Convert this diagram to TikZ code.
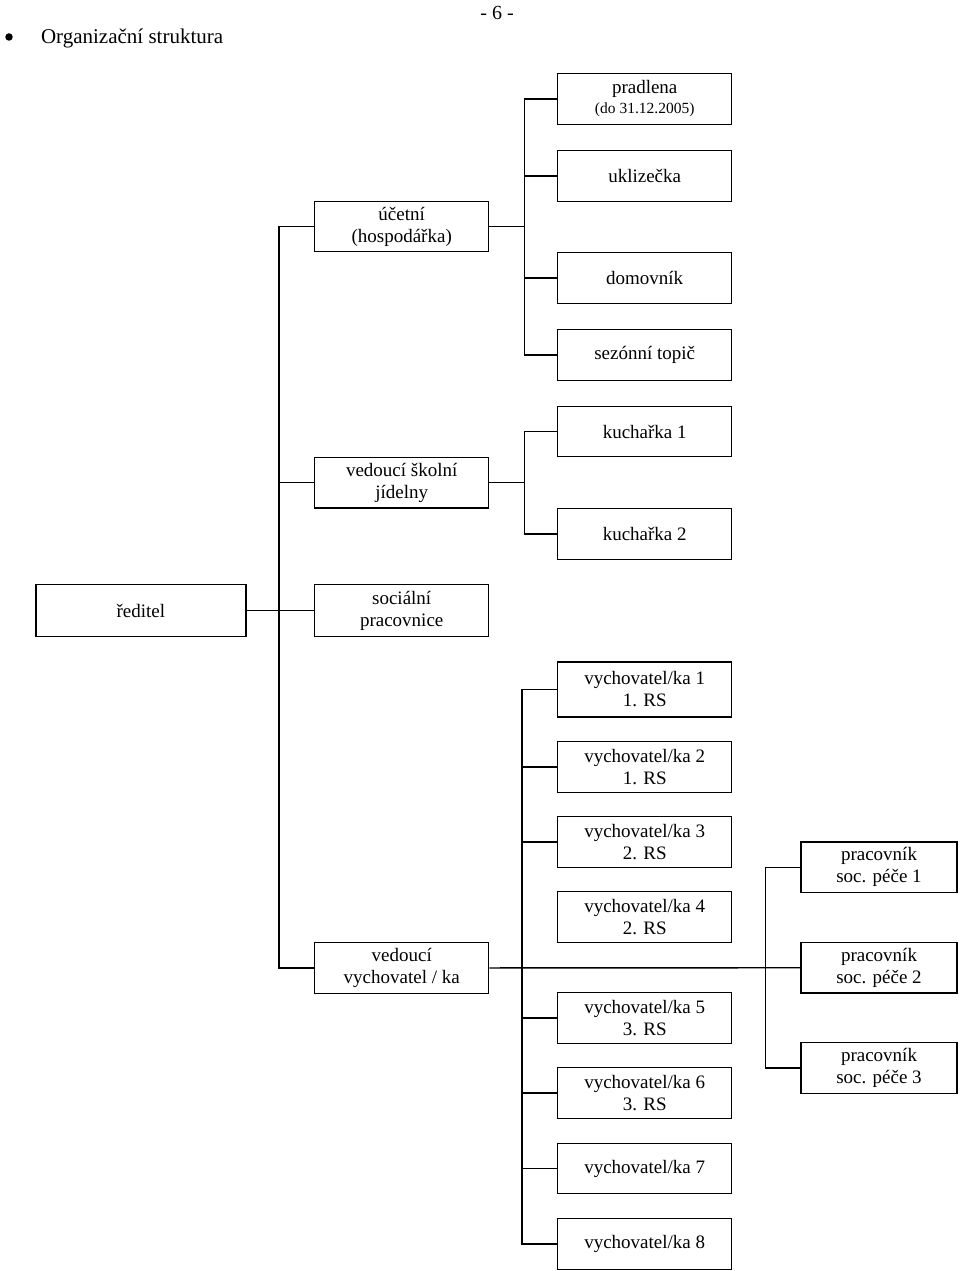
\documentclass[tikz,border=0pt]{standalone}
\usepackage{fontspec}
\setmainfont{Liberation Serif}
\usetikzlibrary{positioning}

\begin{document}
\begin{tikzpicture}[x = 1pt, y = -1pt, line width = 1.4pt,
  font = \fontsize{19}{22}\selectfont,
  box/.style = {draw, align = center, inner sep = 0pt, minimum width = 174pt, minimum height = 50.5pt},
  small/.style = {box, minimum width = 156pt}]
  \useasboundingbox (0,0) rectangle (960,1271);
  % heading
  \node (bul)   at (9,37) [circle, fill, inner sep = 0pt, minimum size = 7.5pt] {};
  \node (title) at (37,44) [anchor = base west, font = \fontsize{21}{25}\selectfont] {Organizační struktura};
  \node (page)  at (497,20) [anchor = base, font = \fontsize{20}{24}\selectfont] {- 6 -};
  % left column
  \node (red)  at (140.8,610.5) [box, minimum width = 210pt, minimum height = 52pt] {ředitel};
  \node (ucet) at (401.7,226.5) [box] {účetní\\(hospodářka)};
  \node (vsj)  at (401.7,482.7) [box] {vedoucí školní\\jídelny};
  \node (soc)  at (401.7,610.5) [box, minimum height = 52pt] {sociální\\pracovnice};
  \node (vedv) at (401.7,968) [box] {vedoucí\\vychovatel / ka};
  % provoz
  \node (prad)  at (644.7,99)  [box] {pradlena\\[-2pt]\fontsize{15.5}{18}\selectfont(do 31.12.2005)};
  \node (ukl)   at (644.7,176) [box] {uklizečka};
  \node (dom)   at (644.7,278) [box] {domovník};
  \node (topic) at (644.7,355) [box] {sezónní topič};
  \node (kuch1) at (644.7,431.5) [box] {kuchařka 1};
  \node (kuch2) at (644.7,534) [box] {kuchařka 2};
  % vychovatele
  \node (vy1) at (644.7,689.5) [box, minimum height = 55pt] {vychovatel/ka 1\\1. RS};
  \node (vy2) at (644.7,767)  [box] {vychovatel/ka 2\\1. RS};
  \node (vy3) at (644.7,842)  [box] {vychovatel/ka 3\\2. RS};
  \node (vy4) at (644.7,917)  [box] {vychovatel/ka 4\\2. RS};
  \node (vy5) at (644.7,1018) [box] {vychovatel/ka 5\\3. RS};
  \node (vy6) at (644.7,1093) [box] {vychovatel/ka 6\\3. RS};
  \node (vy7) at (644.7,1168.5) [box] {vychovatel/ka 7};
  \node (vy8) at (644.7,1244) [box] {vychovatel/ka 8};
  % pracovnici soc. pece
  \node (psp1) at (879,867.3)  [small] {pracovník\\soc. péče 1};
  \node (psp2) at (879,967.7)  [small] {pracovník\\soc. péče 2};
  \node (psp3) at (879,1068)   [small] {pracovník\\soc. péče 3};

  \draw (ucet.west) -- ++(-35,0) |- (vedv.west);
  \draw (vsj.west) -- ++(-35,0);
  \draw (red) -- (soc);
  \draw (ucet.east) -- ++(35,0) coordinate (jA);
  \draw (prad.west) -| (jA) |- (topic.west);
  \draw (ukl.west) -- (ukl.west -| jA);
  \draw (dom.west) -- (dom.west -| jA);
  \draw (vsj.east) -- ++(35,0) coordinate (jB);
  \draw (kuch1.west) -| (jB) |- (kuch2.west);
  \draw (vedv) -- (psp2);
  \draw (vy1.west) -- ++(-35,0) |- (vy8.west);
  \draw (vy2.west) -- ++(-35,0);
  \draw (vy3.west) -- ++(-35,0);
  \draw (vy5.west) -- ++(-35,0);
  \draw (vy6.west) -- ++(-35,0);
  \draw (vy7.west) -- ++(-35,0);
  \draw (psp1.west) -- ++(-35,0) |- (psp3.west);
\end{tikzpicture}
\end{document}
